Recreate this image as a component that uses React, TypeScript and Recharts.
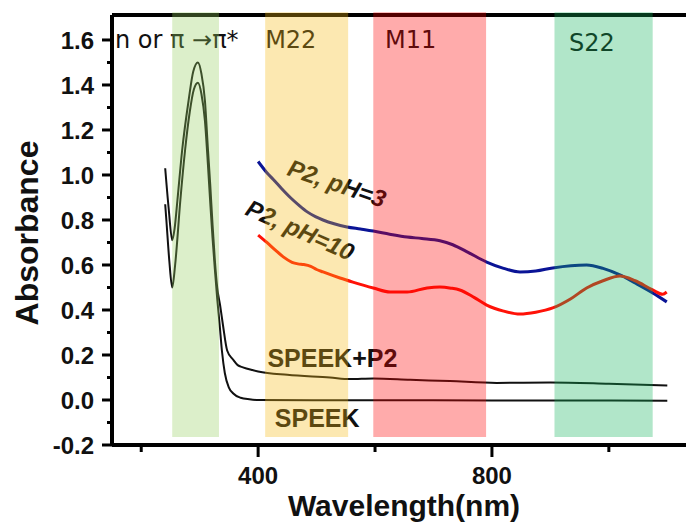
import {
  LineChart,
  Line,
  XAxis,
  YAxis,
  ReferenceArea,
  ReferenceLine,
  ReferenceDot,
  Label
} from 'recharts';

const FONT = '"Liberation Sans", Arial, sans-serif';
const NOTE_FONT = '"DejaVu Sans", "Liberation Sans", sans-serif';

const X_MIN = 150;
const X_MAX = 1132;
const Y_MIN = -0.2;
const Y_MAX = 1.711;

const X_TICKS = [200, 400, 600, 800, 1000];
const X_LABELED = [400, 800];
const Y_TICKS = [-0.2, -0.1, 0, 0.1, 0.2, 0.3, 0.4, 0.5, 0.6, 0.7, 0.8, 0.9, 1.0, 1.1, 1.2, 1.3, 1.4, 1.5, 1.6];

// SPEEK+P2
const NM_SPEEK_P2 = [241, 247, 253, 257, 262, 270, 281, 289, 297, 303, 309, 314, 318, 322, 326, 330, 335, 340, 347, 357, 365, 374, 390, 400, 450, 523, 557, 597, 660, 728, 808, 900, 1000, 1100];
const ABS_SPEEK_P2 = [1.03, 0.85, 0.71, 0.76, 0.89, 1.11, 1.33, 1.46, 1.50, 1.45, 1.33, 1.12, 0.96, 0.78, 0.62, 0.50, 0.42, 0.33, 0.22, 0.18, 0.155, 0.145, 0.133, 0.127, 0.112, 0.10, 0.093, 0.096, 0.09, 0.084, 0.076, 0.078, 0.072, 0.064];

// SPEEK
const NM_SPEEK = [241, 243, 248, 253, 258, 267, 275, 283, 290, 297, 303, 309, 314, 318, 322, 326, 330, 334, 338, 343, 350, 357, 370, 385, 400, 500, 600, 800, 1000, 1100];
const ABS_SPEEK = [0.87, 0.80, 0.62, 0.50, 0.60, 0.89, 1.11, 1.28, 1.38, 1.41, 1.36, 1.24, 1.05, 0.88, 0.72, 0.58, 0.45, 0.34, 0.22, 0.12, 0.055, 0.03, 0.01, 0.003, 0.0, -0.001, -0.001, -0.002, -0.002, -0.003];

// P2, pH=3
const NM_PH3 = [400, 415, 426, 440, 455, 470, 484, 498, 511, 530, 552, 575, 597, 625, 655, 680, 711, 733, 760, 791, 820, 848, 875, 904, 935, 962, 990, 1019, 1045, 1075, 1099];
const ABS_PH3 = [1.06, 1.01, 0.98, 0.94, 0.90, 0.865, 0.836, 0.815, 0.80, 0.783, 0.769, 0.76, 0.751, 0.737, 0.724, 0.718, 0.708, 0.69, 0.655, 0.613, 0.585, 0.569, 0.573, 0.587, 0.597, 0.60, 0.585, 0.556, 0.52, 0.476, 0.436];

// P2, pH=10
const NM_PH10 = [400, 415, 430, 443, 458, 468, 478, 490, 500, 511, 540, 562, 597, 626, 655, 689, 711, 730, 745, 770, 791, 820, 848, 875, 904, 935, 962, 990, 1019, 1045, 1075, 1092, 1099];
const ABS_PH10 = [0.733, 0.70, 0.665, 0.636, 0.612, 0.605, 0.602, 0.594, 0.58, 0.569, 0.542, 0.524, 0.498, 0.48, 0.48, 0.498, 0.502, 0.497, 0.489, 0.455, 0.422, 0.395, 0.382, 0.39, 0.409, 0.45, 0.498, 0.53, 0.551, 0.53, 0.489, 0.47, 0.48];

// shaded bands
const BAND_NAMES = ['pi', 'M22', 'M11', 'S22'];
const BAND_FROM = [253, 412, 597, 907];
const BAND_TO = [333, 554, 790, 1075];
const BAND_COLORS = ['#96cf5d', '#f7ba12', '#ff0000', '#12b45a'];
const BAND_BOTTOM = -0.165;

// annotations
const NOTE_TEXT = ['n or π →π*', 'M22', 'M11', 'S22', 'P2, pH=3', 'P2, pH=10', 'SPEEK+P2', 'SPEEK'];
const NOTE_NM = [155, 412, 617, 932, 535, 472, 527, 501];
const NOTE_ABS = [1.604, 1.604, 1.604, 1.59, 0.964, 0.756, 0.187, -0.08];

const toPoints = (xs: number[], ys: number[]) => xs.map((x, i) => ({ x, y: ys[i] }));

const speekP2 = toPoints(NM_SPEEK_P2, ABS_SPEEK_P2);
const speek = toPoints(NM_SPEEK, ABS_SPEEK);
const ph3 = toPoints(NM_PH3, ABS_PH3);
const ph10 = toPoints(NM_PH10, ABS_PH10);

function YTick(props: any) {
  const { x, y, payload } = props;
  const v = payload.value;
  const major = Math.abs(Math.round(v * 10)) % 2 === 0;
  return (
    <g>
      <line x1={x - (major ? 10 : 5)} x2={x} y1={y} y2={y} stroke="#000" strokeWidth={3} />
      {major && (
        <text x={x - 18} y={y} dy="0.36em" textAnchor="end" fontSize={24} fontWeight={700} fontFamily={FONT} fill="#111">
          {v.toFixed(1)}
        </text>
      )}
    </g>
  );
}

function XTick(props: any) {
  const { x, y, payload } = props;
  const v = payload.value;
  const major = X_LABELED.includes(v);
  return (
    <g>
      <line x1={x} x2={x} y1={y} y2={y + (major ? 12 : 7)} stroke="#000" strokeWidth={3} />
      {major && (
        <text x={x} y={y + 39} textAnchor="middle" fontSize={24} fontWeight={700} fontFamily={FONT} fill="#111">
          {v}
        </text>
      )}
    </g>
  );
}

function noteContent(i: number) {
  return (props: any) => {
    const vb = props.viewBox || {};
    const cx = (vb.x || 0) + (vb.width || 0) / 2;
    const cy = (vb.y || 0) + (vb.height || 0) / 2;
    const text = NOTE_TEXT[i];
    if (i < 4) {
      return (
        <text x={cx} y={cy} dy="0.36em" textAnchor="start" fontSize={24} fontFamily={NOTE_FONT} fill="#111">
          {text}
        </text>
      );
    }
    const angle = i === 4 ? 19 : i === 5 ? 24 : 0;
    const italic = i === 4 || i === 5;
    return (
      <text
        x={cx}
        y={cy}
        dy="0.36em"
        textAnchor="middle"
        fontSize={italic ? 24 : 25}
        fontWeight={700}
        fontStyle={italic ? 'italic' : 'normal'}
        fontFamily={FONT}
        fill="#111"
        transform={`rotate(${angle}, ${cx}, ${cy})`}
      >
        {text}
      </text>
    );
  };
}

export default function App() {
  return (
    <div style={{ position: 'absolute', left: 0, top: 0, width: 686, height: 532, background: '#fff' }}>
      <LineChart width={686} height={532} margin={{ top: 15, right: 0, bottom: 0, left: 0 }}>
        <XAxis
          type="number"
          dataKey="x"
          domain={[X_MIN, X_MAX]}
          allowDataOverflow
          ticks={X_TICKS}
          interval={0}
          height={87}
          tickSize={0}
          tickMargin={0}
          tickLine={false}
          tick={XTick}
          axisLine={{ stroke: '#000', strokeWidth: 4 }}
        >
          <Label
            content={(p: any) => {
              const vb = p.viewBox || {};
              return (
                <text x={vb.x + vb.width / 2 + 5} y={vb.y + 71} textAnchor="middle" fontSize={30} fontWeight={700} fontFamily={FONT} fill="#111">
                  Wavelength(nm)
                </text>
              );
            }}
          />
        </XAxis>
        <YAxis
          type="number"
          dataKey="y"
          domain={[Y_MIN, Y_MAX]}
          allowDataOverflow
          ticks={Y_TICKS}
          interval={0}
          width={112}
          tickSize={0}
          tickMargin={0}
          tickLine={false}
          tick={YTick}
          axisLine={{ stroke: '#000', strokeWidth: 4 }}
        >
          <Label
            content={(p: any) => {
              const vb = p.viewBox || {};
              const cy = vb.y + vb.height / 2 + 3;
              return (
                <text x={38} y={cy} textAnchor="middle" fontSize={32} fontWeight={700} fontFamily={FONT} fill="#111" transform={`rotate(-90, 38, ${cy})`}>
                  Absorbance
                </text>
              );
            }}
          />
        </YAxis>

        <ReferenceLine y={Y_MAX} stroke="#000" strokeWidth={4} ifOverflow="visible" zIndex={50} />

        <Line data={speekP2} dataKey="y" type="monotone" stroke="#111" strokeWidth={2} dot={false} isAnimationActive={false} />
        <Line data={speek} dataKey="y" type="monotone" stroke="#111" strokeWidth={2} dot={false} isAnimationActive={false} />
        <Line data={ph3} dataKey="y" type="monotone" stroke="#0a1496" strokeWidth={3} dot={false} isAnimationActive={false} />
        <Line data={ph10} dataKey="y" type="monotone" stroke="#ff1208" strokeWidth={3} dot={false} isAnimationActive={false} />

        {NOTE_TEXT.map((t, i) => (
          <ReferenceDot key={t} x={NOTE_NM[i]} y={NOTE_ABS[i]} r={0} fill="none" stroke="none" ifOverflow="visible" label={noteContent(i)} />
        ))}

        {BAND_NAMES.map((n, i) => (
          <ReferenceArea
            key={n}
            x1={BAND_FROM[i]}
            x2={BAND_TO[i]}
            y1={BAND_BOTTOM}
            y2={Y_MAX + 0.012}
            fill={BAND_COLORS[i]}
            fillOpacity={0.33}
            stroke="none"
            ifOverflow="visible"
            zIndex={3000}
          />
        ))}
      </LineChart>
    </div>
  );
}
